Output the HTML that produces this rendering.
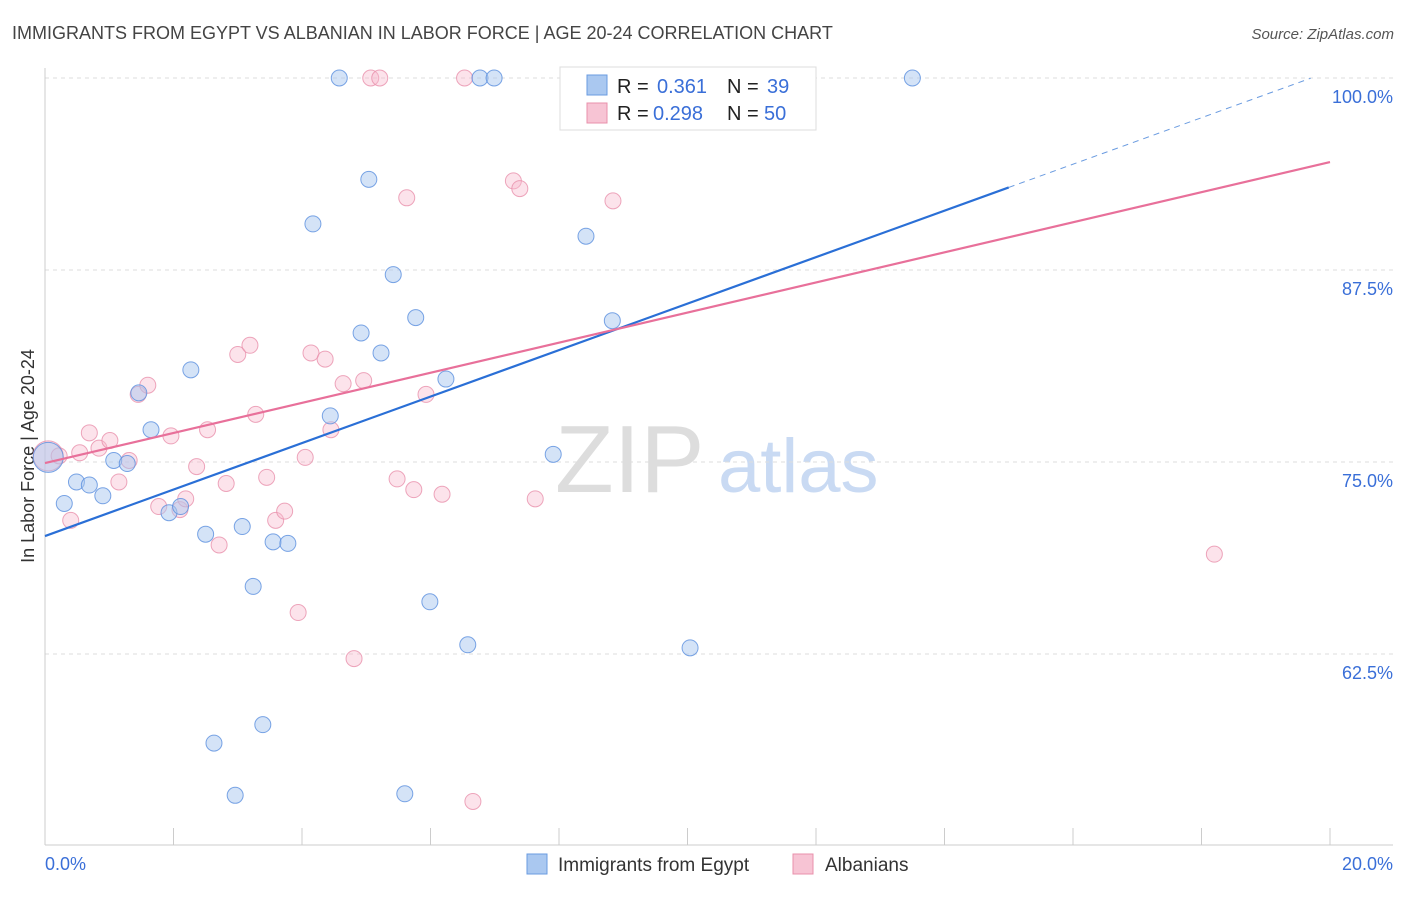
<!DOCTYPE html>
<html><head><meta charset="utf-8"><style>
body{margin:0;background:#fff;font-family:"Liberation Sans",sans-serif;}
svg text{font-family:"Liberation Sans",sans-serif;}
</style></head><body>
<svg id="chart" width="1406" height="892">
<text x="12" y="39" font-size="18" fill="#444">IMMIGRANTS FROM EGYPT VS ALBANIAN IN LABOR FORCE | AGE 20-24 CORRELATION CHART</text>
<text x="1394" y="39" font-size="15" fill="#555" text-anchor="end" font-style="italic">Source: ZipAtlas.com</text>
<text x="34" y="456" font-size="18" fill="#333" text-anchor="middle" transform="rotate(-90 34 456)">In Labor Force | Age 20-24</text>
<text x="555" y="492" font-size="96" fill="#ddd" font-family="Liberation Serif">ZIP</text>
<text x="718" y="492" font-size="76" fill="#c9daf3">atlas</text>
<g id="grid"></g><g id="marks"></g>
<g>
<rect x="560" y="67" width="256" height="63" fill="#fff" stroke="#ddd"/>
<rect x="587" y="75" width="20" height="20" fill="#aac8f0" stroke="#6a9be0"/>
<rect x="587" y="103" width="20" height="20" fill="#f7c4d4" stroke="#e890ab"/>
<text x="617" y="93" font-size="20" fill="#222">R =</text><text x="657" y="93" font-size="20" fill="#3a6fd8">0.361</text>
<text x="727" y="93" font-size="20" fill="#222">N =</text><text x="767" y="93" font-size="20" fill="#3a6fd8">39</text>
<text x="617" y="120" font-size="20" fill="#222">R =</text><text x="653" y="120" font-size="20" fill="#3a6fd8">0.298</text>
<text x="727" y="120" font-size="20" fill="#222">N =</text><text x="764" y="120" font-size="20" fill="#3a6fd8">50</text>
</g>
<g>
<rect x="527" y="854" width="20" height="20" fill="#aac8f0" stroke="#6a9be0"/>
<text x="558" y="871" font-size="19" fill="#333">Immigrants from Egypt</text>
<rect x="793" y="854" width="20" height="20" fill="#f7c4d4" stroke="#e890ab"/>
<text x="825" y="871" font-size="19" fill="#333">Albanians</text>
</g>
</svg>
<script>
const xTicks=[0,2.5,5,7.5,10,12.5,15,17.5,20];
const yTicks=[62.5,75,87.5,100];
const egyptX=[0.05,0.3,0.49,0.69,0.9,1.07,1.28,1.46,1.65,1.93,2.11,2.27,2.5,2.63,2.96,3.07,3.24,3.39,3.55,3.78,4.17,4.44,4.58,4.92,5.04,5.23,5.42,5.6,5.77,5.99,6.24,6.58,6.77,6.99,7.91,8.42,8.83,10.04,13.5];
const egyptY=[75.3,72.3,73.7,73.5,72.8,75.1,74.9,79.5,77.1,71.7,72.1,81.0,70.3,56.7,53.3,70.8,66.9,57.9,69.8,69.7,90.5,78.0,100,83.4,93.4,82.1,87.2,53.4,84.4,65.9,80.4,63.1,100,100,75.5,89.7,84.2,62.9,100];
const albX=[0.05,0.22,0.4,0.54,0.69,0.84,1.01,1.15,1.31,1.45,1.6,1.77,1.96,2.1,2.19,2.36,2.53,2.71,2.82,3.0,3.19,3.28,3.45,3.59,3.73,3.94,4.05,4.14,4.36,4.45,4.64,4.81,4.96,5.07,5.21,5.48,5.63,5.74,5.93,6.18,6.53,6.66,7.29,7.39,7.63,8.22,8.84,9.3,18.2];
const albY=[75.4,75.4,71.2,75.6,76.9,75.9,76.4,73.7,75.1,79.4,80.0,72.1,76.7,71.9,72.6,74.7,77.1,69.6,73.6,82.0,82.6,78.1,74.0,71.2,71.8,65.2,75.3,82.1,81.7,77.1,80.1,62.2,80.3,100,100,73.9,92.2,73.2,79.4,72.9,100,52.9,93.3,92.8,72.6,100,92.0,100,69.0];
const blueLine=[70.18,100.44], pinkLine=[74.93,94.53];
const sx=v=>45+v/20*1285, sy=v=>78+(100-v)*15.36;
const NS="http://www.w3.org/2000/svg";
function mk(p,t,a){const e=document.createElementNS(NS,t);for(const k in a)e.setAttribute(k,a[k]);p.appendChild(e);return e;}
const g=document.getElementById('grid'),m=document.getElementById('marks');
for(const t of yTicks){const l=mk(g,'line',{x1:45,x2:1393,y1:sy(t),y2:sy(t),stroke:'#ddd','stroke-dasharray':'4 4'});


const tx=mk(g,'text',{x:1393,y:sy(t)+25,'font-size':18,fill:'#3a6fd8','text-anchor':'end'});tx.textContent=t.toFixed(1)+'%';

}
mk(g,'line',{x1:45,x2:45,y1:68,y2:845,stroke:'#ccc'});
mk(g,'line',{x1:45,x2:1393,y1:845,y2:845,stroke:'#ccc'});
for(let i=0;i<=10;i++){const x=45+i*128.5;const l=mk(g,'line',{x1:x,x2:x,y1:828,y2:845,stroke:'#ccc'});

}
const x0=mk(g,'text',{x:45,y:870,'font-size':18,fill:'#3a6fd8'});x0.textContent='0.0%';


const x1=mk(g,'text',{x:1393,y:870,'font-size':18,fill:'#3a6fd8','text-anchor':'end'});x1.textContent='20.0%';


albX.forEach((x,i)=>{const c=mk(m,'circle',{cx:sx(x),cy:sy(albY[i]),r:i==0?15:8,fill:'#f7b8cc','fill-opacity':0.4,stroke:'#e890ab','stroke-opacity':0.8});

});
egyptX.forEach((x,i)=>{const c=mk(m,'circle',{cx:sx(x),cy:sy(egyptY[i]),r:i==0?15:8,fill:'#aac8f0','fill-opacity':0.5,stroke:'#5a8ede','stroke-opacity':0.8});

});
const bx=15;const by=blueLine[0]+(blueLine[1]-blueLine[0])*bx/20;
const b1=mk(m,'line',{x1:sx(0),y1:sy(blueLine[0]),x2:sx(bx),y2:sy(by),stroke:'#2a6fd6','stroke-width':2.2});


const b2=mk(m,'line',{x1:sx(bx),y1:sy(by),x2:sx(19.7),y2:sy(blueLine[0]+(blueLine[1]-blueLine[0])*19.7/20),stroke:'#6a9be0','stroke-width':1,'stroke-dasharray':'6 5'});


const p=mk(m,'line',{x1:sx(0),y1:sy(pinkLine[0]),x2:sx(20),y2:sy(pinkLine[1]),stroke:'#e8709a','stroke-width':2.2});


</script>
</body></html>
